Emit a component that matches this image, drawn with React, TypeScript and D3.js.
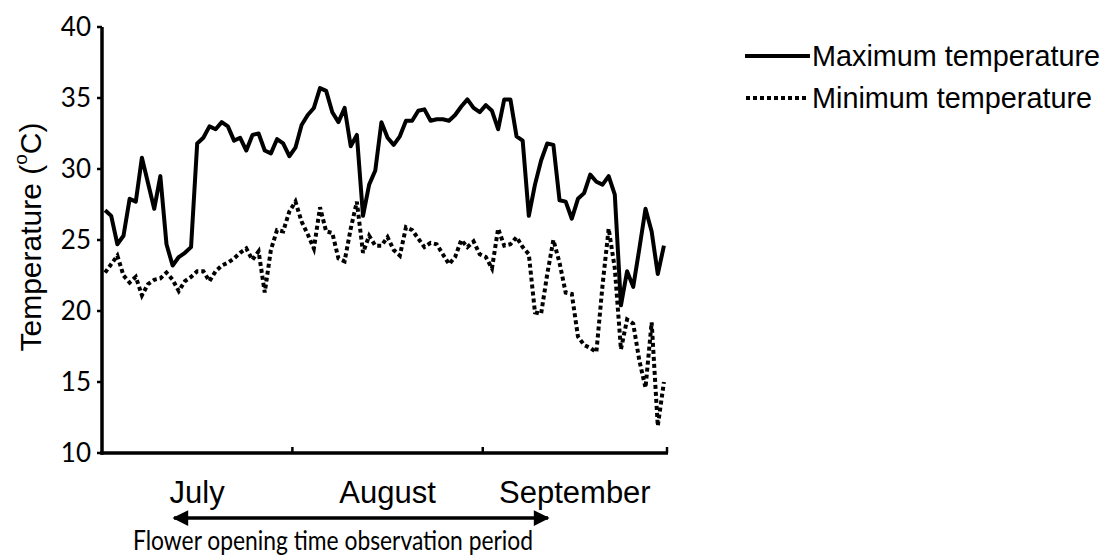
import * as d3 from "d3";

// daily readings, 1 July - 30 September
const maxTemp = [
  27.1, 26.7, 24.7, 25.3, 27.9, 27.7, 30.8, 29.0, 27.2, 29.5, 24.7, 23.2, 23.8, 24.1, 24.5, 31.8,
  32.2, 33.0, 32.8, 33.3, 33.0, 32.0, 32.2, 31.3, 32.4, 32.5, 31.3, 31.1, 32.1, 31.8, 30.9, 31.5,
  33.1, 33.8, 34.3, 35.7, 35.5, 34.0, 33.3, 34.3, 31.6, 32.4, 26.7, 28.9, 29.9, 33.3, 32.2, 31.7,
  32.3, 33.4, 33.4, 34.1, 34.2, 33.4, 33.5, 33.5, 33.4, 33.8, 34.4, 34.9, 34.3, 34.0, 34.5, 34.1,
  32.8, 34.9, 34.9, 32.3, 32.0, 26.7, 28.9, 30.6, 31.8, 31.7, 27.8, 27.7, 26.5, 27.9, 28.3, 29.6,
  29.1, 28.9, 29.5, 28.2, 20.4, 22.8, 21.7, 24.4, 27.2, 25.6, 22.6, 24.6,
];
const minTemp = [
  22.7, 23.3, 23.9, 22.5, 22.0, 22.4, 21.1, 21.9, 22.2, 22.3, 22.7, 22.2, 21.4, 22.1, 22.4, 22.8,
  22.8, 22.1, 22.8, 23.2, 23.4, 23.7, 24.1, 24.4, 23.6, 24.2, 21.3, 24.3, 25.7, 25.6, 27.0, 27.7,
  26.3, 25.4, 24.4, 27.3, 25.6, 25.5, 23.7, 23.5, 25.8, 27.7, 24.1, 25.3, 24.6, 24.6, 25.2, 24.3,
  23.9, 25.9, 25.7, 25.1, 24.5, 24.8, 24.7, 24.0, 23.3, 23.8, 25.0, 24.5, 24.9, 24.0, 23.8, 23.0,
  25.8, 24.6, 24.7, 25.2, 24.5, 24.0, 19.9, 19.8, 22.6, 25.0, 23.4, 21.3, 21.2, 18.2, 17.6, 17.4,
  17.1, 21.8, 25.8, 23.0, 17.3, 19.4, 19.1, 16.5, 14.6, 19.2, 11.9, 15.0,
];
const months = ["July", "August", "September"];
const monthStarts = [0, 31, 62, 92];
const yTicks = [10, 15, 20, 25, 30, 35, 40];

const W = 1116;
const H = 556;
const x = d3.scaleLinear().domain([0, 92]).range([102, 667]);
const y = d3.scaleLinear().domain([10, 40]).range([453, 27]);

const line = d3
  .line<number>()
  .x((_, i) => x(i + 0.5))
  .y((d) => y(d));

const arial = "'Liberation Sans', Arial, sans-serif";
const calibri = "Lato, 'Open Sans', sans-serif";
const dots = "4 3";

export default function App() {
  return (
    <svg
      width={W}
      height={H}
      style={{ position: "absolute", left: 0, top: 0, background: "#fff" }}
    >
      <defs>
        <marker id="ah" viewBox="0 0 10 10" refX="9" refY="5" markerWidth="5.5" markerHeight="4.5" orient="auto-start-reverse" markerUnits="strokeWidth">
          <path d="M0,0 L10,5 L0,10 z" fill="#000" />
        </marker>
      </defs>

      {/* series */}
      <path d={line(minTemp) ?? ""} fill="none" stroke="#000" strokeWidth={4} strokeDasharray={dots} />
      <path d={line(maxTemp) ?? ""} fill="none" stroke="#000" strokeWidth={4} strokeLinejoin="round" />

      {/* y axis */}
      <line x1={x(0)} x2={x(0)} y1={y(40)} y2={y(10) + 1.75} stroke="#000" strokeWidth={3.5} />
      {yTicks.map((t) => (
        <g key={t}>
          <line x1={x(0) - 5} x2={x(0)} y1={y(t)} y2={y(t)} stroke="#000" strokeWidth={2.5} />
          <text x={91} y={y(t)} dy="0.35em" textAnchor="end" fontSize={26} fontFamily={calibri}>
            {t}
          </text>
        </g>
      ))}
      <text
        transform={`translate(30,${y(25) - 3}) rotate(-90)`}
        textAnchor="middle"
        dy="0.35em"
        fontSize={30}
        fontFamily={arial}
      >
        Temperature (<tspan fontSize={19} dy="-0.7em">o</tspan>
        <tspan dy="0.45em">C)</tspan>
      </text>

      {/* x axis */}
      <line x1={x(0) - 1.75} x2={x(92) + 1} y1={y(10)} y2={y(10)} stroke="#000" strokeWidth={3.5} />
      {monthStarts.slice(1).map((d) => (
        <line key={d} x1={x(d)} x2={x(d)} y1={y(10)} y2={y(10) - 6} stroke="#000" strokeWidth={2.5} />
      ))}
      {months.map((m, i) => (
        <text
          key={m}
          x={x((monthStarts[i] + monthStarts[i + 1]) / 2)}
          y={492}
          dy="0.35em"
          textAnchor="middle"
          fontSize={31}
          fontFamily={arial}
        >
          {m}
        </text>
      ))}

      {/* observation period arrow */}
      <line x1={174} x2={548} y1={518} y2={518} stroke="#000" strokeWidth={3.5} markerStart="url(#ah)" markerEnd="url(#ah)" />
      <text
        x={333}
        y={541}
        dy="0.35em"
        textAnchor="middle"
        fontSize={26}
        fontFamily={calibri}
        textLength={400}
        lengthAdjust="spacingAndGlyphs"
      >
        Flower opening time observation period
      </text>

      {/* legend */}
      <line x1={745} x2={810} y1={56} y2={56} stroke="#000" strokeWidth={4} />
      <text x={812} y={56} dy="0.35em" fontSize={28.8} fontFamily={arial}>
        Maximum temperature
      </text>
      <line x1={746} x2={806} y1={98} y2={98} stroke="#000" strokeWidth={4} strokeDasharray={dots} />
      <text x={812} y={98} dy="0.35em" fontSize={28.8} fontFamily={arial}>
        Minimum temperature
      </text>
    </svg>
  );
}
